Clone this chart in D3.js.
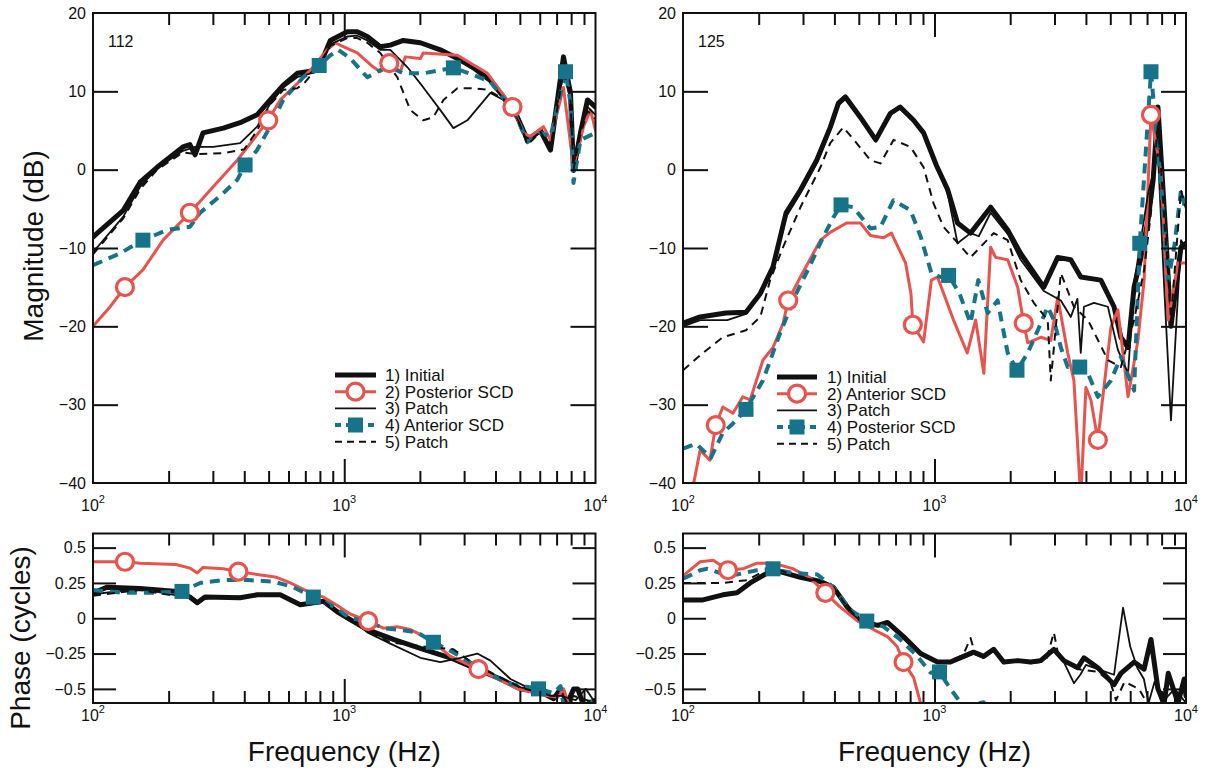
<!DOCTYPE html>
<html><head><meta charset="utf-8">
<script src="https://cdn.jsdelivr.net/npm/d3@7"></script>
<style>
body{margin:0;background:#fff}
svg{display:block}
text{font-family:"Liberation Sans",Arial,Helvetica,sans-serif;fill:#111}
</style>
</head><body>
<svg id="c" width="1213" height="773"></svg>
<script>
// ---------------- DATA (frequency in Hz, magnitude in dB / phase in cycles) ----------------
// Top-left (ear 112) magnitude
const tlInitial = [[100,-8.6],[104,-8.1],[132,-5.2],[154,-1.6],[180,0.3],[228,2.9],[243,3.2],[255,1.9],[274,4.7],[330,5.3],[385,6],[450,7],[507,8.9],[572,10.8],[650,12.3],[780,12.7],[826,14.4],[880,16.5],[1028,17.6],[1127,17.6],[1235,17],[1391,15.7],[1525,15.9],[1718,16.5],[2009,16.2],[2413,15.3],[2820,14.2],[3266,13],[3816,11.4],[4301,9.3],[4891,6.7],[5361,3.8],[6039,5],[6619,2.5],[7456,14.4],[7951,9.8],[8173,-0.1],[8714,4.7],[9291,8.9],[10000,8]];
const tlPost = [[100,-20],[117,-17.5],[134,-15],[158,-12.8],[190,-9],[243,-5.5],[293,-2.6],[375,1.2],[434,3.8],[498,6.3],[556,8.9],[650,11],[752,13.1],[856,15.3],[921,16.2],[991,15.7],[1127,14.9],[1305,13.1],[1391,12.5],[1511,13.6],[1672,12.5],[1750,14.4],[2009,14.2],[2064,14.9],[2820,14.6],[3713,12.3],[4672,8],[5167,4.7],[5508,4.2],[6206,5.5],[6619,3.8],[7456,10.5],[8173,0.3],[8959,5.5],[9552,7.6],[10000,5]];
const tlPatch3 = [[100,-10.5],[104,-9.9],[132,-6],[154,-2.2],[180,0.2],[228,2.4],[255,2.9],[301,2.9],[385,3.4],[450,5.5],[507,8.4],[572,10.5],[650,11.8],[780,12.5],[880,16],[1028,17],[1127,17.1],[1235,16.5],[1391,15.3],[1525,15.3],[1782,13.1],[2064,10.5],[2413,7.6],[2720,5.3],[3090,6.3],[3816,9.8],[4301,8.9],[4891,6.5],[5361,3.5],[6039,4.8],[6619,2.8],[7456,13.5],[7951,9],[8173,0.5],[8714,5],[9291,8],[10000,7]];
const tlAnt = [[100,-12.2],[128,-10.7],[150,-9.4],[158,-9],[197,-7.7],[243,-7.3],[267,-5.5],[330,-3],[375,-1.3],[403,0.6],[450,2.5],[507,5.5],[572,8.9],[687,11.8],[795,13.3],[880,14.6],[947,15.3],[1057,14.2],[1235,11.8],[1391,12.7],[1525,13.1],[1718,12.3],[2064,12.3],[2413,12.7],[2719,13],[3266,12.1],[3816,11.2],[4715,7.6],[5361,3.5],[6039,4.7],[6619,4.2],[7595,12.5],[7951,8.5],[8173,-1.7],[8714,3.8],[10000,4.7]];
const tlPatch5 = [[100,-10.8],[132,-6.2],[154,-2.5],[180,0],[228,2.2],[255,2],[330,2.1],[400,2.6],[450,5],[507,8.3],[572,10.2],[650,10.4],[700,11.2],[780,13],[880,15.8],[1028,16.8],[1127,16.8],[1235,16.2],[1391,14.9],[1626,11.8],[1832,7.6],[2064,6.3],[2262,6.7],[2482,8.9],[2820,10.4],[3266,10.4],[3713,10.2],[4301,9],[4891,6.5],[5361,3.2],[6039,4.8],[6619,2.7],[7456,12.5],[7951,9],[8173,0],[8714,4.5],[9291,7.5],[10000,6.5]];
const tlPostMarks = [134,243,498,1511,4672];
const tlAntMarks = [158,403,795,2719,7595];

// Top-right (ear 125) magnitude
const trInitial = [[100,-19.6],[117,-18.8],[148,-18.3],[178,-18.2],[203,-15.8],[228,-12.4],[257,-5.5],[293,-2.6],[340,1.2],[385,5.4],[415,8.5],[442,9.3],[507,6.7],[584,3.8],[668,7.2],[730,8],[826,6.3],[905,4.7],[1019,0.5],[1127,-2.5],[1235,-6.8],[1391,-8.1],[1672,-4.8],[1954,-7.7],[2201,-10.7],[2720,-15],[3090,-11.2],[3483,-11.5],[3816,-13.7],[4586,-14.1],[5174,-17.5],[5508,-21.4],[5884,-22.7],[6217,-15],[6619,-11.2],[7070,-6.4],[7403,-1.3],[7735,8],[8190,-5],[8714,-20],[9552,-9.9],[10000,-9.4]];
const trAnt = [[100,-47],[117,-35.8],[128,-37.1],[135,-32.6],[144,-30.3],[158,-31.1],[173,-29],[185,-29.4],[208,-24.3],[228,-22.7],[250,-19.6],[262,-16.7],[293,-13.7],[352,-9],[385,-8],[447,-6.8],[507,-6.8],[556,-8.4],[627,-8.7],[674,-8.1],[767,-11.9],[806,-15.8],[820,-19.8],[905,-22],[972,-14.1],[1028,-13.7],[1190,-19.2],[1350,-23.4],[1457,-19.2],[1571,-26],[1672,-9.9],[1750,-11.2],[1954,-11.5],[2142,-15],[2264,-19.6],[2348,-22.1],[2644,-21.4],[2900,-21.8],[3090,-16.3],[3386,-23.4],[3583,-26.9],[3816,-42],[4000,-27.8],[4188,-29.4],[4462,-34.5],[5030,-20.1],[5361,-17.9],[5884,-29],[6440,-21.8],[6815,-14.1],[7257,7],[7951,-0.4],[8500,-19.2],[9291,-11.9],[10000,-11.9]];
const trPatch3 = [[100,-20],[117,-19.2],[150,-19.2],[178,-18.4],[203,-16],[228,-12.8],[257,-6],[293,-3],[340,0.8],[385,5],[415,8.2],[442,9],[507,6.5],[584,3.6],[668,7],[730,7.8],[826,6.1],[905,4.5],[1019,0.3],[1127,-3],[1235,-9.4],[1391,-8.1],[1500,-8.5],[1672,-5.5],[1954,-8.2],[2201,-11.5],[2720,-15.5],[3180,-16.7],[3483,-18.8],[3700,-16.5],[3816,-23.4],[3928,-17.5],[4306,-17],[4891,-17.5],[5361,-23],[5884,-26],[6217,-14.5],[7070,-3],[7735,2],[8190,-15],[8714,-32],[9552,-9],[10000,-10]];
const trPost = [[100,-35.6],[113,-35],[129,-36.8],[144,-33.6],[158,-32.4],[178,-30.6],[208,-26.9],[243,-20.9],[282,-15.8],[318,-12.4],[361,-8.6],[396,-6.1],[425,-4.5],[476,-4.8],[556,-7.5],[610,-7.3],[687,-3.9],[803,-5.2],[880,-8.5],[972,-13.2],[1057,-13.7],[1138,-13.5],[1257,-15.8],[1391,-19.6],[1493,-14.1],[1626,-18.3],[1782,-16.7],[1954,-23.4],[2128,-25.6],[2348,-23.4],[2575,-20.5],[2820,-17.5],[2982,-19.2],[3180,-22.7],[3386,-25.2],[3780,-25.2],[4075,-26],[4462,-29],[5030,-26.9],[5508,-23.9],[6217,-28.2],[6550,-9.4],[7257,12.5],[7951,-2],[8500,-14.1],[8977,-9.9],[9552,-2.6],[10000,-5.5]];
const trPatch5 = [[100,-25.6],[120,-23.4],[144,-21.4],[178,-20.5],[203,-18.8],[222,-14.1],[250,-9.9],[293,-4.8],[352,0.3],[385,3.4],[434,5.4],[490,3.4],[556,1.2],[610,0.8],[687,3.8],[803,2.9],[905,0.3],[991,-4.3],[1086,-7.3],[1391,-11.2],[1719,-8.1],[1954,-9],[2201,-14.1],[2482,-17],[2820,-19.2],[2900,-26.9],[3180,-13.2],[3583,-17.5],[4075,-19.2],[4891,-24.3],[5508,-25.2],[6217,-19.2],[6815,-12.8],[7257,-5.5],[7735,6],[8714,-19],[9552,-2.6],[10000,-5]];
const trAntMarks = [135,262,820,2264,4462,7257];
const trPostMarks = [178,425,1138,2128,3780,6550,7257];

// Bottom-left (ear 112) phase
const blInitial = [[100,0.18],[114,0.22],[154,0.21],[216,0.19],[243,0.15],[260,0.11],[279,0.15],[385,0.145],[450,0.166],[556,0.166],[668,0.095],[826,0.12],[938,0.046],[1057,-0.01],[1235,-0.08],[1568,-0.15],[2065,-0.22],[2644,-0.28],[3269,-0.35],[4188,-0.43],[5030,-0.5],[6039,-0.52],[6815,-0.57],[7257,-0.5],[7735,-0.6],[8190,-0.5],[8500,-0.5],[8977,-0.62],[10000,-0.58]];
const blPost = [[100,0.4],[134,0.4],[154,0.39],[214,0.38],[243,0.355],[260,0.32],[274,0.36],[330,0.35],[379,0.33],[450,0.31],[538,0.29],[610,0.25],[714,0.19],[826,0.15],[938,0.09],[1057,0.03],[1246,-0.02],[1430,-0.07],[1626,-0.06],[1832,-0.08],[2201,-0.15],[2644,-0.27],[3420,-0.36],[4075,-0.43],[4891,-0.5],[6039,-0.54],[7070,-0.56],[7471,-0.5],[7951,-0.65]];
const blPatch3 = [[100,0.17],[154,0.21],[243,0.145],[260,0.1],[279,0.14],[450,0.16],[556,0.16],[668,0.09],[826,0.11],[938,0.046],[1057,0],[1235,-0.1],[1525,-0.18],[2009,-0.28],[2413,-0.31],[2900,-0.28],[3386,-0.25],[3816,-0.3],[4586,-0.43],[5508,-0.5],[6619,-0.55],[7257,-0.55],[8340,-0.58],[9140,-0.5],[10000,-0.6]];
const blAnt = [[100,0.2],[132,0.18],[180,0.18],[226,0.19],[267,0.25],[330,0.27],[411,0.27],[522,0.26],[627,0.22],[753,0.15],[880,0.096],[1057,0],[1235,-0.02],[1430,-0.07],[1626,-0.08],[1954,-0.1],[2264,-0.17],[2644,-0.23],[3090,-0.3],[3583,-0.37],[4462,-0.46],[5932,-0.5],[6815,-0.53],[7257,-0.48],[7471,-0.62],[9000,-0.66],[9552,-0.59],[10000,-0.66]];
const blPatch5 = [[100,0.16],[154,0.2],[243,0.14],[260,0.1],[279,0.14],[450,0.16],[556,0.16],[668,0.09],[826,0.12],[938,0.04],[1057,-0.02],[1235,-0.09],[1525,-0.17],[2065,-0.2],[2720,-0.22],[3269,-0.32],[4188,-0.42],[5030,-0.49],[6039,-0.53],[6815,-0.55],[7257,-0.52],[7735,-0.6],[8190,-0.55],[10000,-0.6]];
const blPostMarks = [134,379,1246,3420];
const blAntMarks = [226,753,2264,5932];

// Bottom-right (ear 125) phase
const brInitial = [[100,0.13],[120,0.13],[144,0.166],[164,0.18],[185,0.25],[216,0.32],[243,0.33],[293,0.29],[352,0.26],[396,0.22],[450,0.08],[507,-0.02],[594,-0.05],[650,-0.03],[753,-0.13],[880,-0.25],[1028,-0.31],[1157,-0.31],[1305,-0.27],[1430,-0.24],[1568,-0.27],[1719,-0.22],[1884,-0.31],[2142,-0.3],[2413,-0.31],[2644,-0.3],[2982,-0.22],[3269,-0.3],[3713,-0.35],[3928,-0.28],[4462,-0.35],[5174,-0.47],[5508,-0.39],[6217,-0.31],[6815,-0.36],[7257,-0.15],[7735,-0.5],[8190,-0.6],[8500,-0.39],[9291,-0.6],[9841,-0.43],[10000,-0.55]];
const brAnt = [[100,0.3],[103,0.32],[117,0.4],[132,0.41],[151,0.34],[173,0.35],[197,0.39],[228,0.39],[274,0.35],[318,0.29],[368,0.18],[421,0.08],[495,-0.02],[572,-0.08],[650,-0.13],[710,-0.2],[753,-0.31],[826,-0.42],[880,-0.6],[920,-0.75]];
const brPatch3 = [[100,0.13],[120,0.13],[144,0.17],[164,0.18],[185,0.25],[216,0.32],[243,0.33],[293,0.29],[352,0.26],[396,0.22],[450,0.08],[507,-0.02],[594,-0.05],[650,-0.03],[753,-0.13],[880,-0.25],[1028,-0.31],[1157,-0.31],[1305,-0.28],[1430,-0.25],[1568,-0.28],[1719,-0.23],[1884,-0.32],[2142,-0.3],[2413,-0.32],[2644,-0.31],[2982,-0.23],[3269,-0.31],[3583,-0.46],[3800,-0.4],[4000,-0.33],[4462,-0.36],[5174,-0.4],[5620,0.075],[6000,-0.2],[6400,-0.35],[6800,-0.43],[7100,-0.6],[7500,-0.45],[8000,-0.6],[9000,-0.5],[10000,-0.6]];
const brPost = [[100,0.28],[103,0.29],[117,0.34],[125,0.35],[141,0.32],[164,0.31],[197,0.34],[228,0.35],[274,0.32],[342,0.31],[396,0.22],[463,0.06],[538,-0.02],[627,-0.06],[730,-0.15],[856,-0.27],[965,-0.386],[1047,-0.38],[1157,-0.5],[1300,-0.62],[1568,-0.595],[1700,-0.7]];
const brPatch5 = [[100,0.25],[120,0.25],[144,0.25],[180,0.27],[203,0.32],[243,0.34],[293,0.29],[352,0.26],[396,0.22],[450,0.08],[507,-0.02],[594,-0.05],[650,-0.03],[753,-0.13],[880,-0.25],[1028,-0.31],[1157,-0.3],[1300,-0.26],[1391,-0.14],[1450,-0.25],[1568,-0.27],[1719,-0.22],[1884,-0.31],[2142,-0.3],[2413,-0.31],[2800,-0.28],[2982,-0.1],[3100,-0.25],[3269,-0.31],[3713,-0.36],[4462,-0.38],[5000,-0.45],[5270,-0.58],[5700,-0.45],[6500,-0.5],[7000,-0.6],[10000,-0.65]];
const brAntMarks = [151,368,753];
const brPostMarks = [228,538,1047];

// Axis ticks and labels
const freqDomain = [100, 10000];
const decadeTicks = [100, 1000, 10000];
const decadeExponents = ["2", "3", "4"];
const minorFreqTicks = [200,300,400,500,600,700,800,900,2000,3000,4000,5000,6000,7000,8000,9000];
const magDomain = [-40, 20];
const magTicks = [20, 10, 0, -10, -20, -30, -40];
const magTickLabels = ["20", "10", "0", "\u221210", "\u221220", "\u221230", "\u221240"];
const phaseDomain = [-0.6, 0.6];
const phaseTicks = [0.5, 0.25, 0, -0.25, -0.5];
const phaseTickLabels = ["0.5", "0.25", "0", "\u22120.25", "\u22120.5"];
const legendLeft = ["1) Initial", "2) Posterior SCD", "3) Patch", "4) Anterior SCD", "5) Patch"];
const legendRight = ["1) Initial", "2) Anterior SCD", "3) Patch", "4) Posterior SCD", "5) Patch"];

// ---------------- STYLE ----------------
const RED = "#e8534e", TEAL = "#17738a", BLACK = "#111";
const ST = {
  initial: {stroke: BLACK, width: 5},
  red: {stroke: RED, width: 3, marker: "circle"},
  patch3: {stroke: BLACK, width: 1.8},
  teal: {stroke: TEAL, width: 4, dash: "10,7", marker: "square"},
  patch5: {stroke: BLACK, width: 2, dash: "8,6"}
};

const svg = d3.select("#c");
svg.append("rect").attr("width",1213).attr("height",773).attr("fill","#fff");

function drawMarker(g, type, cx, cy) {
  if (type === "circle") {
    g.append("circle").attr("cx",cx).attr("cy",cy).attr("r",8.5)
      .attr("fill","#fff").attr("stroke",RED).attr("stroke-width",3.2);
  } else {
    g.append("rect").attr("x",cx-7.5).attr("y",cy-7.5).attr("width",15).attr("height",15)
      .attr("fill",TEAL);
  }
}

function drawPanel(p) {
  const x = d3.scaleLog().domain(freqDomain).range([p.x0, p.x1]);
  const y = d3.scaleLinear().domain(p.yDomain).range([p.y1, p.y0]);
  const cid = "clip-" + p.name;
  svg.append("clipPath").attr("id", cid).append("rect")
    .attr("x", p.x0).attr("y", p.y0).attr("width", p.x1 - p.x0).attr("height", p.y1 - p.y0);
  const g = svg.append("g").attr("clip-path", `url(#${cid})`);
  const line = d3.line().x(d => x(d[0])).y(d => y(d[1]));
  p.series.forEach(s => {
    g.append("path").datum(s.data).attr("d", line).attr("fill","none")
      .attr("stroke", s.style.stroke).attr("stroke-width", s.style.width)
      .attr("stroke-dasharray", s.style.dash || null)
      .attr("stroke-linejoin","round").attr("stroke-linecap", s.style.dash ? "butt" : "round");
  });
  const mg = svg.append("g");
  p.series.forEach(s => {
    if (!s.marks) return;
    s.marks.forEach(f => {
      const d = s.data.find(v => Math.abs(v[0] - f) < 0.5);
      if (d) drawMarker(mg, s.style.marker, x(d[0]), y(d[1]));
    });
  });

  // axes (inward ticks)
  const styleAxis = sel => { sel.select(".domain").remove(); sel.selectAll("line").attr("stroke","#111").attr("stroke-width",2); sel.selectAll("text").remove(); };
  svg.append("g").attr("transform",`translate(0,${p.y1})`)
    .call(d3.axisBottom(x).tickValues(minorFreqTicks).tickSize(-p.minorLen).tickFormat("")).call(styleAxis);
  svg.append("g").attr("transform",`translate(0,${p.y1})`)
    .call(d3.axisBottom(x).tickValues([1000]).tickSize(-p.majorLen).tickFormat("")).call(styleAxis);
  svg.append("g").attr("transform",`translate(0,${p.y0})`)
    .call(d3.axisTop(x).tickValues(minorFreqTicks).tickSize(-p.minorLen).tickFormat("")).call(styleAxis);
  svg.append("g").attr("transform",`translate(0,${p.y0})`)
    .call(d3.axisTop(x).tickValues([1000]).tickSize(-p.majorLen).tickFormat("")).call(styleAxis);
  const inner = p.yTicks.filter(v => v > p.yDomain[0] && v < p.yDomain[1]);
  svg.append("g").attr("transform",`translate(${p.x0},0)`)
    .call(d3.axisLeft(y).tickValues(inner).tickSize(-p.yLen).tickFormat("")).call(styleAxis);
  svg.append("g").attr("transform",`translate(${p.x1},0)`)
    .call(d3.axisRight(y).tickValues(inner).tickSize(-p.yLen).tickFormat("")).call(styleAxis);

  // frame
  svg.append("rect").attr("x",p.x0).attr("y",p.y0).attr("width",p.x1-p.x0).attr("height",p.y1-p.y0)
    .attr("fill","none").attr("stroke","#111").attr("stroke-width",2);

  // y tick labels
  p.yTicks.forEach((v,i) => {
    svg.append("text").attr("x", p.x0 - 7).attr("y", y(v)).attr("dy","0.36em")
      .attr("text-anchor","end").attr("font-size",16).text(p.yLabels[i]);
  });
  // x tick labels 10^n
  decadeTicks.forEach((v,i) => {
    const t = svg.append("text").attr("x", x(v)).attr("y", p.xLabelY)
      .attr("text-anchor","middle").attr("font-size",16);
    t.append("tspan").text("10");
    t.append("tspan").attr("dy",-8).attr("font-size",11).text(decadeExponents[i]);
  });
  if (p.label) {
    svg.append("text").attr("x", p.x0 + 15).attr("y", p.y0 + 34).attr("font-size",16).text(p.label);
  }
  return {x, y};
}

function drawLegend(lx0, lx1, tx, ys, labels) {
  const keys = ["initial","red","patch3","teal","patch5"];
  keys.forEach((k,i) => {
    const s = ST[k];
    svg.append("line").attr("x1",lx0).attr("x2",lx1).attr("y1",ys[i]).attr("y2",ys[i])
      .attr("stroke",s.stroke).attr("stroke-width",s.width).attr("stroke-dasharray", s.dash ? (k==="teal" ? "6,5" : "7,5") : null);
    if (s.marker) drawMarker(svg, s.marker, (lx0+lx1)/2, ys[i]);
    svg.append("text").attr("x",tx).attr("y",ys[i]).attr("dy","0.36em").attr("font-size",17).text(labels[i]);
  });
}

const LX0 = 93, LX1 = 595.5, RX0 = 683, RX1 = 1186;
const TY0 = 13, TY1 = 483, BY0 = 533.5, BY1 = 703;

drawPanel({name:"tl", x0:LX0, x1:LX1, y0:TY0, y1:TY1, yDomain:magDomain, yTicks:magTicks, yLabels:magTickLabels,
  minorLen:12, majorLen:24, yLen:25, xLabelY:511, label:"112",
  series:[{data:tlInitial,style:ST.initial},{data:tlPost,style:ST.red,marks:tlPostMarks},{data:tlPatch3,style:ST.patch3},
          {data:tlAnt,style:ST.teal,marks:tlAntMarks},{data:tlPatch5,style:ST.patch5}]});
drawPanel({name:"tr", x0:RX0, x1:RX1, y0:TY0, y1:TY1, yDomain:magDomain, yTicks:magTicks, yLabels:magTickLabels,
  minorLen:12, majorLen:24, yLen:25, xLabelY:511, label:"125",
  series:[{data:trInitial,style:ST.initial},{data:trAnt,style:ST.red,marks:trAntMarks},{data:trPatch3,style:ST.patch3},
          {data:trPost,style:ST.teal,marks:trPostMarks},{data:trPatch5,style:ST.patch5}]});
drawPanel({name:"bl", x0:LX0, x1:LX1, y0:BY0, y1:BY1, yDomain:phaseDomain, yTicks:phaseTicks, yLabels:phaseTickLabels,
  minorLen:12, majorLen:24, yLen:23, xLabelY:721,
  series:[{data:blInitial,style:ST.initial},{data:blPost,style:ST.red,marks:blPostMarks},{data:blPatch3,style:ST.patch3},
          {data:blAnt,style:ST.teal,marks:blAntMarks},{data:blPatch5,style:ST.patch5}]});
drawPanel({name:"br", x0:RX0, x1:RX1, y0:BY0, y1:BY1, yDomain:phaseDomain, yTicks:phaseTicks, yLabels:phaseTickLabels,
  minorLen:12, majorLen:24, yLen:23, xLabelY:721,
  series:[{data:brInitial,style:ST.initial},{data:brAnt,style:ST.red,marks:brAntMarks},{data:brPatch3,style:ST.patch3},
          {data:brPost,style:ST.teal,marks:brPostMarks},{data:brPatch5,style:ST.patch5}]});

drawLegend(335, 376, 385, [375, 391.7, 408.3, 425, 441.7], legendLeft);
drawLegend(777, 817, 827, [377, 393.7, 410.3, 427, 443.7], legendRight);

// axis titles
svg.append("text").attr("transform","translate(43,246) rotate(-90)").attr("text-anchor","middle").attr("font-size",28).text("Magnitude (dB)");
svg.append("text").attr("transform","translate(30,638) rotate(-90)").attr("text-anchor","middle").attr("font-size",28).text("Phase (cycles)");
svg.append("text").attr("x",(LX0+LX1)/2).attr("y",761).attr("text-anchor","middle").attr("font-size",28).text("Frequency (Hz)");
svg.append("text").attr("x",(RX0+RX1)/2).attr("y",761).attr("text-anchor","middle").attr("font-size",28).text("Frequency (Hz)");
</script>
</body></html>
